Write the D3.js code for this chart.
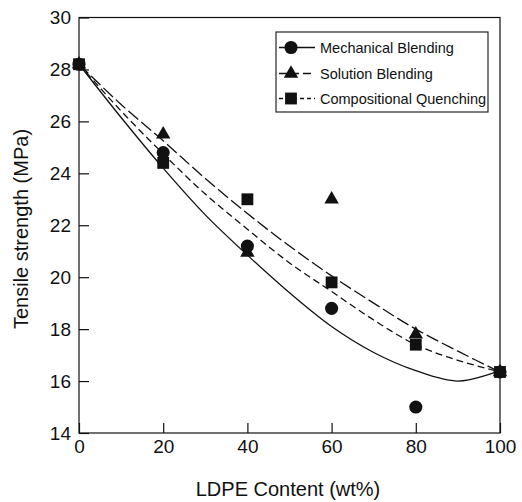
<!DOCTYPE html>
<html>
  <head>
    <meta charset="utf-8">
    <script src="https://cdn.jsdelivr.net/npm/d3@7"></script>
    <style>
      body{
        margin: 0;
        padding: 0;
        background-color: white;
      }
      text{
        font-family: "Liberation Sans", Arial, Helvetica, sans-serif;
        fill: #111;
      }
      .axis path, .axis line{
        stroke: #111;
        stroke-width: 1.2px;
      }
    </style>
  </head>
  <body>
    <svg id="chart" width="522" height="502"></svg>
    <script>
      // measured points
      var loading = [0, 20, 40, 60, 80, 100];
      var mechanical = [28.2, 24.8, 21.2, 18.8, 15.0, 16.35];
      var solution = [28.2, 25.5, 20.95, 23.0, 17.8, 16.35];
      var quenching = [28.2, 24.4, 23.0, 19.8, 17.4, 16.35];

      // fitted curves
      var fitX = [0, 10, 20, 30, 40, 50, 60, 70, 80, 90, 100];
      var mechanicalFit = [28.2, 26.15, 24.2, 22.4, 20.85, 19.4, 18.1, 17.1, 16.4, 16.0, 16.4];
      var solutionFit = [28.2, 26.65, 25.25, 23.8, 22.45, 21.2, 20.05, 19.0, 18.0, 17.15, 16.35];
      var quenchingFit = [28.2, 26.4, 24.75, 23.2, 21.85, 20.55, 19.45, 18.35, 17.4, 16.8, 16.35];

      var xTicks = [0, 20, 40, 60, 80, 100];
      var yTicks = [14, 16, 18, 20, 22, 24, 26, 28, 30];
      var names = ["Mechanical Blending", "Solution Blending", "Compositional Quenching"];

      var svg = d3.select("#chart");
      var x = d3.scaleLinear().domain([0, 100]).range([79, 500]);
      var y = d3.scaleLinear().domain([14, 30]).range([433, 17.5]);

      // frame
      svg.append("rect")
        .attr("x", x(0)).attr("y", y(30))
        .attr("width", x(100) - x(0)).attr("height", y(14) - y(30))
        .attr("fill", "none").attr("stroke", "#111").attr("stroke-width", 1.2);

      var xAxis = svg.append("g").attr("class", "axis")
        .attr("transform", "translate(0," + y(14) + ")")
        .call(d3.axisBottom(x).tickValues(xTicks).tickSizeInner(-10).tickSizeOuter(0).tickPadding(16));
      var yAxis = svg.append("g").attr("class", "axis")
        .attr("transform", "translate(" + x(0) + ",0)")
        .call(d3.axisLeft(y).tickValues(yTicks).tickSizeInner(-10).tickSizeOuter(0).tickPadding(8));
      svg.selectAll(".axis .domain").remove();
      svg.selectAll(".axis text").style("font-size", "19px").style("font-family", '"Liberation Sans", Arial, sans-serif').attr("fill", "#111");
      xAxis.selectAll("text").attr("dy", "0.2em");

      svg.append("text")
        .attr("x", 288).attr("y", 496)
        .attr("text-anchor", "middle")
        .style("font-size", "20px")
        .text("LDPE Content (wt%)");
      svg.append("text")
        .attr("transform", "translate(28,229) rotate(-90)")
        .attr("text-anchor", "middle")
        .style("font-size", "20px")
        .text("Tensile strength (MPa)");

      var dashes = [null, "13,4", "7,4"];
      var fits = [mechanicalFit, solutionFit, quenchingFit];
      var series = [mechanical, solution, quenching];
      var shapes = [d3.symbolCircle, d3.symbolTriangle, d3.symbolSquare];
      var sizes = [135, 90, 140];

      var line = d3.line().curve(d3.curveCatmullRom.alpha(0.5))
        .x(function(d){ return x(d[0]); })
        .y(function(d){ return y(d[1]); });

      fits.forEach(function(f, i){
        svg.append("path")
          .datum(fitX.map(function(v, j){ return [v, f[j]]; }))
          .attr("d", line)
          .attr("fill", "none")
          .attr("stroke", "#111")
          .attr("stroke-width", 1.3)
          .attr("stroke-dasharray", dashes[i]);
      });

      series.forEach(function(s, i){
        svg.append("g").selectAll("path")
          .data(s)
          .enter().append("path")
          .attr("d", d3.symbol().type(shapes[i]).size(sizes[i]))
          .attr("transform", function(d, j){ return "translate(" + x(loading[j]) + "," + y(d) + ")"; })
          .attr("fill", "#111");
      });

      // legend
      var legend = svg.append("g");
      legend.append("rect")
        .attr("x", 276).attr("y", 32).attr("width", 212).attr("height", 80)
        .attr("fill", "white").attr("stroke", "#111").attr("stroke-width", 1.1);
      var rows = [47.5, 73.5, 98.5];
      names.forEach(function(n, i){
        legend.append("line")
          .attr("x1", 279).attr("x2", 315).attr("y1", rows[i]).attr("y2", rows[i])
          .attr("stroke", "#111").attr("stroke-width", 1.3)
          .attr("stroke-dasharray", i == 0 ? null : (i == 1 ? "8,4" : "4,3"));
        legend.append("path")
          .attr("d", d3.symbol().type(shapes[i]).size(sizes[i]))
          .attr("transform", "translate(291," + rows[i] + ")")
          .attr("fill", "#111");
        legend.append("text")
          .attr("x", 320).attr("y", rows[i]).attr("dy", "0.36em")
          .style("font-size", "14.5px")
          .text(n);
      });
    </script>
  </body>
</html>
